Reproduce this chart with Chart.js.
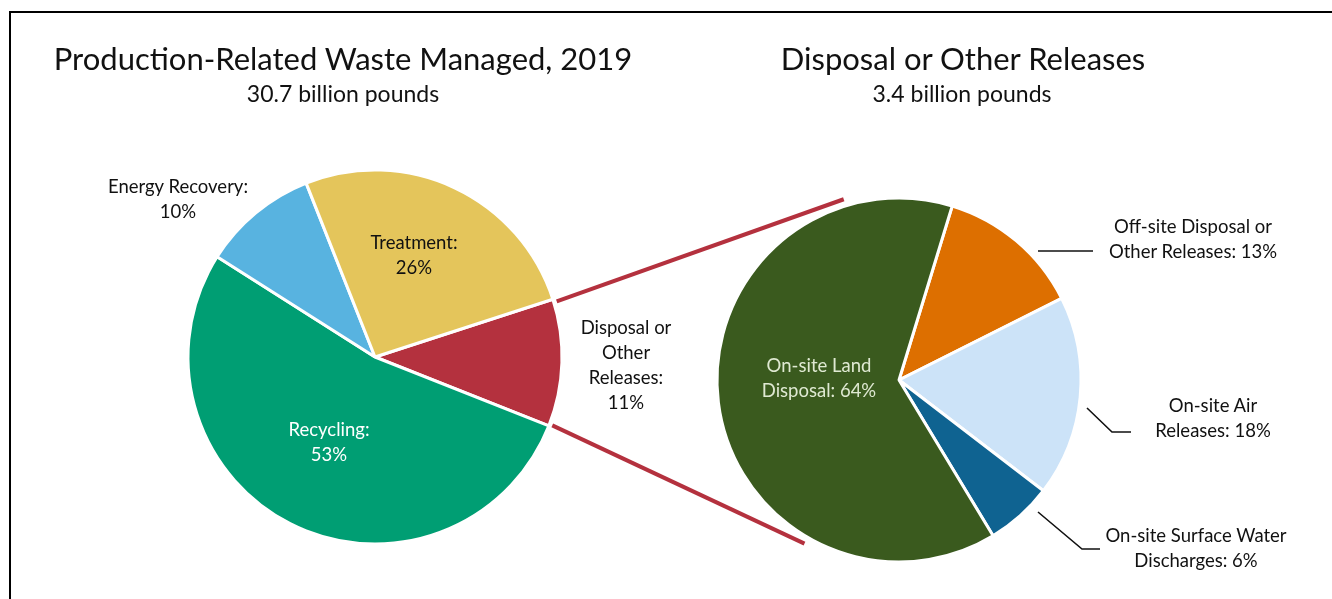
<!DOCTYPE html>
<html>
<head>
<meta charset="utf-8">
<script src="https://cdn.jsdelivr.net/npm/chart.js@4.4.1/dist/chart.umd.min.js"></script>
<style>
  body { margin: 0; background: #fff; width: 1332px; height: 599px; overflow: hidden; position: relative; font-family: Lato, "Open Sans", sans-serif; color: #111; }
  #frame { position: absolute; left: 9px; top: 11px; width: 1400px; height: 700px; border-left: 2px solid #000; border-top: 2px solid #000; }
  canvas { position: absolute; }
  .t { position: absolute; transform: translateX(-50%); white-space: nowrap; text-align: center; }
  .title { font-size: 31px; line-height: 31px; }
  .sub { font-size: 23px; line-height: 23px; }
  .lbl { font-size: 18.5px; line-height: 25px; }
</style>
</head>
<body>
<div id="frame"></div>
<canvas id="leftPie" width="400" height="400" style="left:175px;top:157px"></canvas>
<canvas id="rightPie" width="400" height="400" style="left:699px;top:180px"></canvas>
<canvas id="overlay" width="1332" height="599" style="left:0;top:0;pointer-events:none"></canvas>

<div class="t title" style="left:343px;top:43px">Production-Related Waste Managed, 2019</div>
<div class="t sub" style="left:343px;top:82px">30.7 billion pounds</div>
<div class="t title" style="left:963px;top:43px">Disposal or Other Releases</div>
<div class="t sub" style="left:962px;top:82px">3.4 billion pounds</div>
<div id="labels"></div>

<script>
// ---------- data ----------
const leftCategories = ['Disposal or Other Releases', 'Recycling', 'Energy Recovery', 'Treatment'];
const leftValues = [11, 53, 10, 26];
const leftColors = ['#b4313e', '#009e73', '#58b3e0', '#e4c55b'];

const rightCategories = ['Off-site Disposal or Other Releases', 'On-site Air Releases', 'On-site Surface Water Discharges', 'On-site Land Disposal'];
const rightValues = [13, 18, 6, 64];
const rightColors = ['#dd6f00', '#cce3f8', '#0f6391', '#3a5a1e'];

// Label text per slice (line breaks as in the original)
const leftLabelLines = [
  ['Disposal or', 'Other', 'Releases:', leftValues[0] + '%'],
  ['Recycling:', leftValues[1] + '%'],
  ['Energy Recovery:', leftValues[2] + '%'],
  ['Treatment:', leftValues[3] + '%']
];
const rightLabelLines = [
  ['Off-site Disposal or', 'Other Releases: ' + rightValues[0] + '%'],
  ['On-site Air', 'Releases: ' + rightValues[1] + '%'],
  ['On-site Surface Water', 'Discharges: ' + rightValues[2] + '%'],
  ['On-site Land', 'Disposal: ' + rightValues[3] + '%']
];

// ---------- label layout (center x, first line center y, color) ----------
const leftLabelPos = [[626, 328, '#111'], [329, 430, '#fff'], [178, 187, '#111'], [414, 243, '#111']];
const rightLabelPos = [[1193, 227, '#111'], [1213, 406, '#111'], [1196, 536, '#111'], [819, 366, '#dfe9d2']];

function addLabels(lines, pos) {
  const box = document.getElementById('labels');
  lines.forEach((l, i) => {
    const d = document.createElement('div');
    d.className = 't lbl';
    d.style.left = pos[i][0] + 'px';
    d.style.top = (pos[i][1] - 13) + 'px';
    d.style.color = pos[i][2];
    d.innerHTML = l.join('<br>');
    box.appendChild(d);
  });
}
addLabels(leftLabelLines, leftLabelPos);
addLabels(rightLabelLines, rightLabelPos);

// ---------- charts ----------
function pieChart(id, labels, values, colors, rotation, radius) {
  return new Chart(document.getElementById(id), {
    type: 'pie',
    data: {
      labels: labels,
      datasets: [{
        data: values,
        backgroundColor: colors,
        borderColor: '#ffffff',
        borderWidth: 3,
        hoverOffset: 0
      }]
    },
    options: {
      responsive: false,
      animation: false,
      events: [],
      rotation: rotation,
      radius: radius,
      layout: { padding: 0 },
      plugins: { legend: { display: false }, tooltip: { enabled: false } }
    }
  });
}

const leftChart = pieChart('leftPie', leftCategories, leftValues, leftColors, 72, 187);
const rightChart = pieChart('rightPie', rightCategories, rightValues, rightColors, 17, 182);

// ---------- connectors and leader lines ----------
function drawOverlay() {
  const ctx = document.getElementById('overlay').getContext('2d');
  ctx.clearRect(0, 0, 1332, 599);

  const la = leftChart.getDatasetMeta(0).data[0];
  const rArc = rightChart.getDatasetMeta(0).data[0];
  const lOff = [175, 157], rOff = [699, 180];
  const pt = (arc, off, ang, extra) => [
    off[0] + arc.x + (arc.outerRadius + extra) * Math.cos(ang),
    off[1] + arc.y + (arc.outerRadius + extra) * Math.sin(ang)
  ];
  const deg = Math.PI / 180;

  ctx.strokeStyle = leftColors[0];
  ctx.lineWidth = 4;
  ctx.lineCap = 'butt';
  [[la.startAngle + 1 * deg, -107 * deg], [la.endAngle - 0.5 * deg, 120 * deg]].forEach(([a0, a1]) => {
    const p0 = pt(la, lOff, a0, 3);
    const p1 = pt(rArc, rOff, a1, 7);
    ctx.beginPath();
    ctx.moveTo(p0[0], p0[1]);
    ctx.lineTo(p1[0], p1[1]);
    ctx.stroke();
  });

  // leader lines for the small outside labels
  const leaders = [
    [[1038, 251], [1093, 251]],
    [[1087, 408], [1112, 432], [1131, 432]],
    [[1038, 512], [1082, 549], [1100, 549]]
  ];
  ctx.strokeStyle = '#111';
  ctx.lineWidth = 1.6;
  leaders.forEach(path => {
    ctx.beginPath();
    path.forEach((p, i) => i ? ctx.lineTo(p[0], p[1]) : ctx.moveTo(p[0], p[1]));
    ctx.stroke();
  });
}
drawOverlay();
</script>
</body>
</html>
